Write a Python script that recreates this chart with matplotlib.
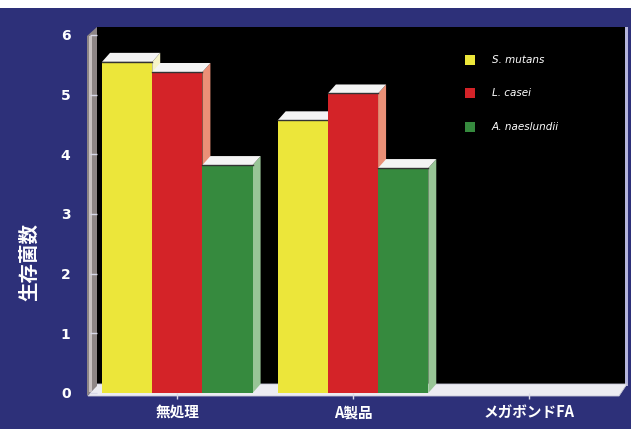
import matplotlib
matplotlib.use("Agg")
import matplotlib.pyplot as plt
from matplotlib.patches import Polygon, Rectangle
import numpy as np

categories = ["無処理", "A製品", "メガボンドFA"]
series_names = ["S. mutans", "L. casei", "A. naeslundii"]
s_mutans = [5.55, 4.57, 0.0]
l_casei = [5.38, 5.02, 0.0]
a_naes = [3.82, 3.77, 0.0]
series = [s_mutans, l_casei, a_naes]
yticks = [0, 1, 2, 3, 4, 5, 6]

front_colors = ["#ece63a", "#d42328", "#368a3e"]
side_colors = ["#f6f4c8", "#eb9077", "#98c596"]

plt.rcParams['font.family'] = ['Noto Sans CJK JP', 'DejaVu Sans']

W, H = 631, 429
navy = "#2d3079"
fig = plt.figure(figsize=(W / 100, H / 100), dpi=100, facecolor=navy)

def fx(x):
    return x / W

def fy(y):
    return 1 - y / H

BG = -5
fig.patches.append(Rectangle((0, fy(8)), 1, 8 / H, transform=fig.transFigure,
                             facecolor="white", edgecolor="none", zorder=BG))
fig.patches.append(Rectangle((fx(97), fy(384)), (626 - 97) / W, (384 - 27) / H,
                             transform=fig.transFigure, facecolor="black",
                             edgecolor="none", zorder=BG))
fig.patches.append(Rectangle((fx(625), fy(386)), 3 / W, (386 - 27) / H,
                             transform=fig.transFigure, facecolor="#b4b4dc",
                             edgecolor="none", zorder=BG))
floor = [(88, 396), (619, 396), (627, 384), (97, 384)]
fig.patches.append(Polygon([(fx(a), fy(b)) for a, b in floor], closed=True,
                           transform=fig.transFigure, facecolor="#ececf2",
                           edgecolor="#c8c8d8", lw=0.6, zorder=BG))
wall = [(87, 396), (97, 386), (97, 27), (87, 36)]
fig.patches.append(Polygon([(fx(a), fy(b)) for a, b in wall], closed=True,
                           transform=fig.transFigure, facecolor="#8e8686",
                           edgecolor="none", zorder=BG))
fig.patches.append(Rectangle((fx(89), fy(392)), 3 / W, (392 - 36) / H,
                             transform=fig.transFigure, facecolor="#c9c2c2",
                             edgecolor="none", zorder=BG))

left_px, right_px, bot_px, top_px = 97, 617, 393, 35
ax = fig.add_axes([fx(left_px), fy(bot_px), (right_px - left_px) / W,
                   (bot_px - top_px) / H])
ax.set_facecolor("none")
ax.patch.set_alpha(0)
for s in ax.spines.values():
    s.set_visible(False)

bw = 50 / 175
ax.set_xlim(-80 / 175, 2 + 88 / 175)
ax.set_ylim(0, 6)

x = np.arange(len(categories))
offsets = [-bw, 0, bw]
fig.canvas.draw()

dx, dy = 8, 9
z = 2
for gi in range(len(categories)):
    for si in range(3):
        v = series[si][gi]
        if v <= 0:
            continue
        xc = x[gi] + offsets[si]
        x0, x1 = xc - bw / 2, xc + bw / 2
        ax.bar(xc, v, width=bw, color=front_colors[si], edgecolor="none", zorder=z + 1)
        (px0, py0) = ax.transData.transform((x0, 0))
        (px1, ph) = ax.transData.transform((x1, v))
        side = [(px1, py0), (px1 + dx, py0 + dy), (px1 + dx, ph + dy), (px1, ph)]
        top = [(px0, ph), (px0 + dx, ph + dy), (px1 + dx, ph + dy), (px1, ph)]
        ax.add_patch(Polygon(side, closed=True, transform=None,
                             facecolor=side_colors[si], edgecolor="none", zorder=z))
        ax.add_patch(Polygon(top, closed=True, transform=None,
                             facecolor="#f4f4f4", edgecolor="none", zorder=z))
        ax.plot([px0, px1], [ph, ph], transform=None, color="#333333", lw=1.0,
                zorder=z + 2, clip_on=False)
        z += 3

for p in ax.patches:
    p.set_clip_on(False)

ax.set_yticks(yticks)
ax.set_yticklabels([str(t) for t in yticks], color="white", fontsize=10,
                   fontweight="bold", family=["DejaVu Sans"])
ax.tick_params(axis="y", colors="#d8d8e8", length=5, width=1, pad=14,
               labelcolor="white")
ax.set_xticks(x)
ax.set_xticklabels(categories, color="white", fontsize=10.5, fontweight="bold")
ax.tick_params(axis="x", colors="#d8d8e8", length=4, width=1, pad=4,
               labelcolor="white", direction="out")

fig.text(fx(30), fy(262), "生存菌数", rotation=90, color="white",
         fontsize=14, fontweight="bold", ha="center", va="center")

leg_y = [60, 93, 127]
for si in range(3):
    fig.patches.append(Rectangle((fx(465), fy(leg_y[si] + 5)), 10 / W, 10 / H,
                                 transform=fig.transFigure,
                                 facecolor=front_colors[si], edgecolor="none",
                                 zorder=5))
    fig.text(fx(492), fy(leg_y[si]), series_names[si], color="white",
             fontsize=7.5, style="italic", ha="left", va="center",
             family=["DejaVu Sans"])

fig.savefig("out.png", dpi=100, facecolor=navy)
